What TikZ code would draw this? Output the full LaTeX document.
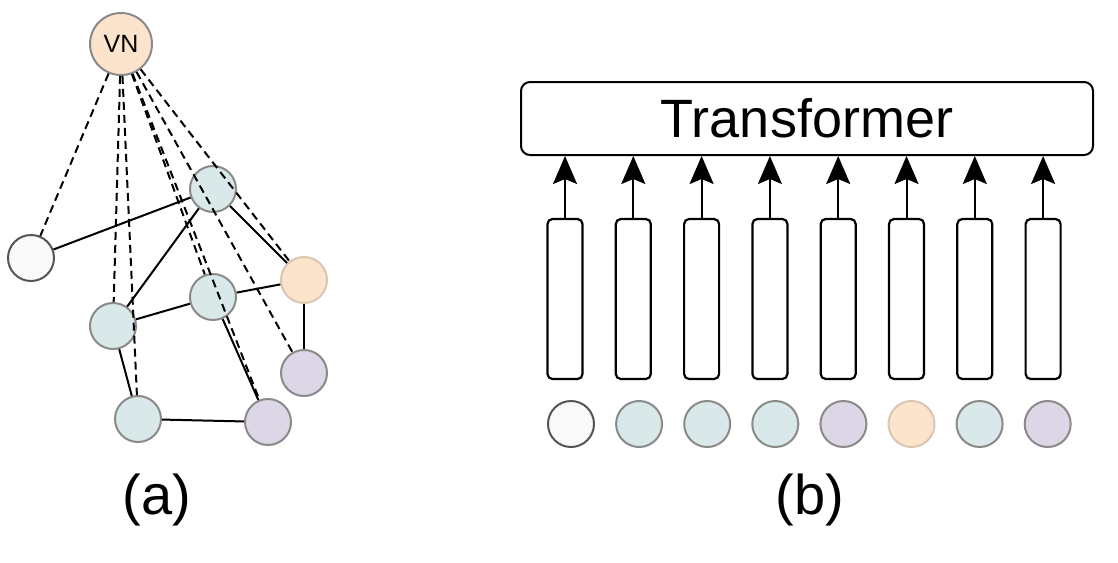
\documentclass[tikz,border=0pt]{standalone}
\usepackage{fontspec}
\setmainfont{Liberation Sans}
\usetikzlibrary{arrows.meta}
\definecolor{tealc}{HTML}{D9E8E8}
\definecolor{orangec}{HTML}{FCE3CB}
\definecolor{purplec}{HTML}{DDD6E6}
\definecolor{whitec}{HTML}{F9F9F9}
\definecolor{nodegray}{HTML}{8A8A8A}
\definecolor{orangeedge}{HTML}{D9C6B2}
\definecolor{darkedge}{HTML}{555555}
\begin{document}
\begin{tikzpicture}[x=1pt,y=-1pt,
  gnode/.style={circle, minimum size=46pt, inner sep=0pt, line width=2pt, draw=nodegray},
  tealn/.style={gnode, fill=tealc},
  orangen/.style={gnode, fill=orangec, draw=orangeedge},
  purplen/.style={gnode, fill=purplec},
  whiten/.style={gnode, fill=whitec, draw=darkedge},
  vnnode/.style={gnode, minimum size=62pt, fill=orangec, font=\fontsize{25}{28}\selectfont},
  edge/.style={line width=2pt, black},
  vedge/.style={line width=2pt, black, dash pattern=on 8pt off 5pt},
  colbox/.style={draw=black, line width=2.2pt, rounded corners=5pt, minimum width=35pt, minimum height=160pt, inner sep=0pt},
  tbox/.style={draw=black, line width=2pt, rounded corners=9pt, minimum width=572pt, minimum height=73pt, inner sep=0pt, font=\fontsize{54}{60}\selectfont},
  arr/.style={line width=2pt, black, -{Stealth[length=28pt, width=24pt, inset=5pt]}},
  lbl/.style={font=\fontsize{56}{62}\selectfont, inner sep=0pt}
]
\useasboundingbox (0,0) rectangle (1118,562);

% ---------- (a) graph ----------
\node[vnnode] (vn) at (121,44) {VN};
\node[whiten] (w) at (31,258) {};
\node[tealn] (t1) at (213,189) {};
\node[orangen] (o) at (304,280) {};
\node[tealn] (m) at (213,297) {};
\node[tealn] (l) at (113,326) {};
\node[purplen] (p1) at (304,373) {};
\node[tealn] (b) at (138,419) {};
\node[purplen] (p2) at (268,422) {};

\draw[edge] (w) -- (t1);
\draw[edge] (t1) -- (l);
\draw[edge] (t1) -- (o);
\draw[edge] (l) -- (m);
\draw[edge] (m) -- (o);
\draw[edge] (l) -- (b);
\draw[edge] (m) -- (p2);
\draw[edge] (o) -- (p1);
\draw[edge] (b) -- (p2);

\draw[vedge] (vn) -- (w);
\draw[vedge] (vn) -- (l);
\draw[vedge] (vn) -- (b);
\draw[vedge] (vn) -- (m);
\draw[vedge] (vn) -- (p2);
\draw[vedge] (vn) -- (p1);
\draw[vedge] (vn) -- (o);

\node[lbl] (la) at (157,500) {(a)};

% ---------- (b) transformer ----------
\node[tbox] (tb) at (807,118.5) {Transformer};

\foreach \i/\sty in {0/whiten,1/tealn,2/tealn,3/tealn,4/purplen,5/orangen,6/tealn,7/purplen}{
  \node[colbox] (r\i) at ({565+68.3*\i},299) {};
  \node[\sty] (c\i) at ({571+68.1*\i},424) {};
  \draw[arr] (r\i.north) -- (r\i.north |- tb.south);
}

\node[lbl] (lb) at (810,500) {(b)};
\end{tikzpicture}
\end{document}
